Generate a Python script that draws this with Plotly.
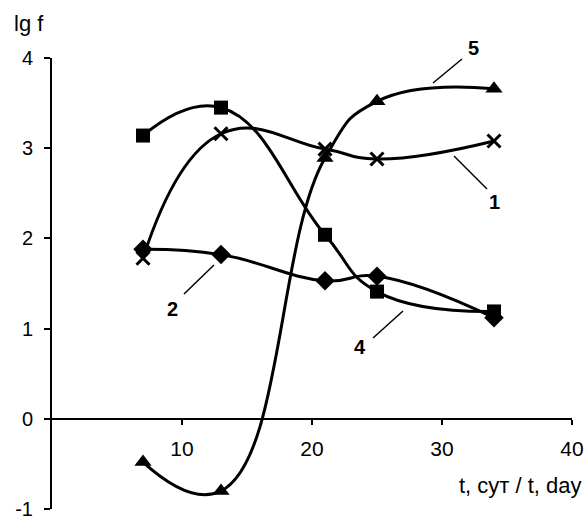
import plotly.graph_objects as go

t = [7, 13, 21, 25, 34]
s1 = [1.78, 3.16, 2.99, 2.88, 3.08]   # crosses
s2 = [1.88, 1.82, 1.53, 1.58, 1.12]   # diamonds
s4 = [3.14, 3.45, 2.04, 1.41, 1.19]   # squares
s5 = [-0.48, -0.80, 2.89, 3.52, 3.66] # triangles

x_ticks = [10, 20, 30, 40]
y_ticks = [-1, 0, 1, 2, 3, 4]
y_tick_text = ["-1", "0", "1", "2", "3", "4"]

FONT = "Liberation Sans, Arial, sans-serif"
W, H = 587, 519
L, R, T, B = 52, 15, 58, 10
PW, PH = W - L - R, H - T - B

def px(xp):
    return (xp - L) / PW

def py(yp):
    return (H - B - yp) / PH

fig = go.Figure()
common = dict(mode="lines+markers", line=dict(color="black", width=3, shape="spline", smoothing=1.3),
              cliponaxis=False, showlegend=False)
fig.add_trace(go.Scatter(x=t, y=s5, marker=dict(symbol="triangle-up", size=15, color="black"), **common))
fig.add_trace(go.Scatter(x=t, y=s4, marker=dict(symbol="square", size=14, color="black"), **common))
fig.add_trace(go.Scatter(x=t, y=s2, marker=dict(symbol="diamond", size=15, color="black"), **common))
fig.add_trace(go.Scatter(x=t, y=s1, marker=dict(symbol="x-thin", size=13, color="black",
                                               line=dict(color="black", width=3)), **common))

# leader lines (pixel coordinates converted to paper)
leaders = [((433, 83), (462, 59)), ((454, 156), (487, 189)),
           ((184, 294), (214, 265)), ((373, 338), (403, 311))]
for (a, b) in leaders:
    fig.add_shape(type="line", xref="paper", yref="paper",
                  x0=px(a[0]), y0=py(a[1]), x1=px(b[0]), y1=py(b[1]),
                  line=dict(color="black", width=1.5))

labels = [("5", 473, 48), ("1", 494, 202), ("2", 172, 309), ("4", 360, 347)]
for txt, xp, yp in labels:
    fig.add_annotation(text="<b>%s</b>" % txt, xref="paper", yref="paper", x=px(xp), y=py(yp),
                       showarrow=False, xanchor="center", yanchor="middle",
                       font=dict(family=FONT, size=20, color="black"))

fig.add_annotation(text="lg f", xref="paper", yref="paper", x=px(12), y=py(24),
                   showarrow=False, xanchor="left", yanchor="middle",
                   font=dict(family=FONT, size=22, color="black"))
fig.add_annotation(text="t, сут / t, day", xref="paper", yref="paper", x=px(584), y=py(485),
                   showarrow=False, xanchor="right", yanchor="middle",
                   font=dict(family=FONT, size=22, color="black"))

fig.update_layout(
    width=W, height=H, margin=dict(l=L, r=R, t=T, b=B, autoexpand=False),
    paper_bgcolor="white", plot_bgcolor="white",
    font=dict(family=FONT, size=21, color="black"),
    xaxis=dict(range=[0, 40], tickvals=x_ticks, ticks="outside", ticklen=5, tickwidth=2,
               tickcolor="black", showline=True, linecolor="black", linewidth=2,
               showgrid=False, zeroline=False, anchor="free", position=0.2, automargin=False,
               ticklabelstandoff=6, ticklabeloverflow="allow", tickfont=dict(family=FONT, size=21)),
    yaxis=dict(range=[-1.0005, 4], tickvals=y_ticks, ticktext=y_tick_text, ticks="outside",
               ticklen=6, tickwidth=2, automargin=False,
               tickcolor="black", showline=True, linecolor="black", linewidth=2,
               showgrid=False, zeroline=False, ticklabelstandoff=7, ticklabeloverflow="allow",
               tickfont=dict(family=FONT, size=20)),
)

fig.write_html("out.html")
